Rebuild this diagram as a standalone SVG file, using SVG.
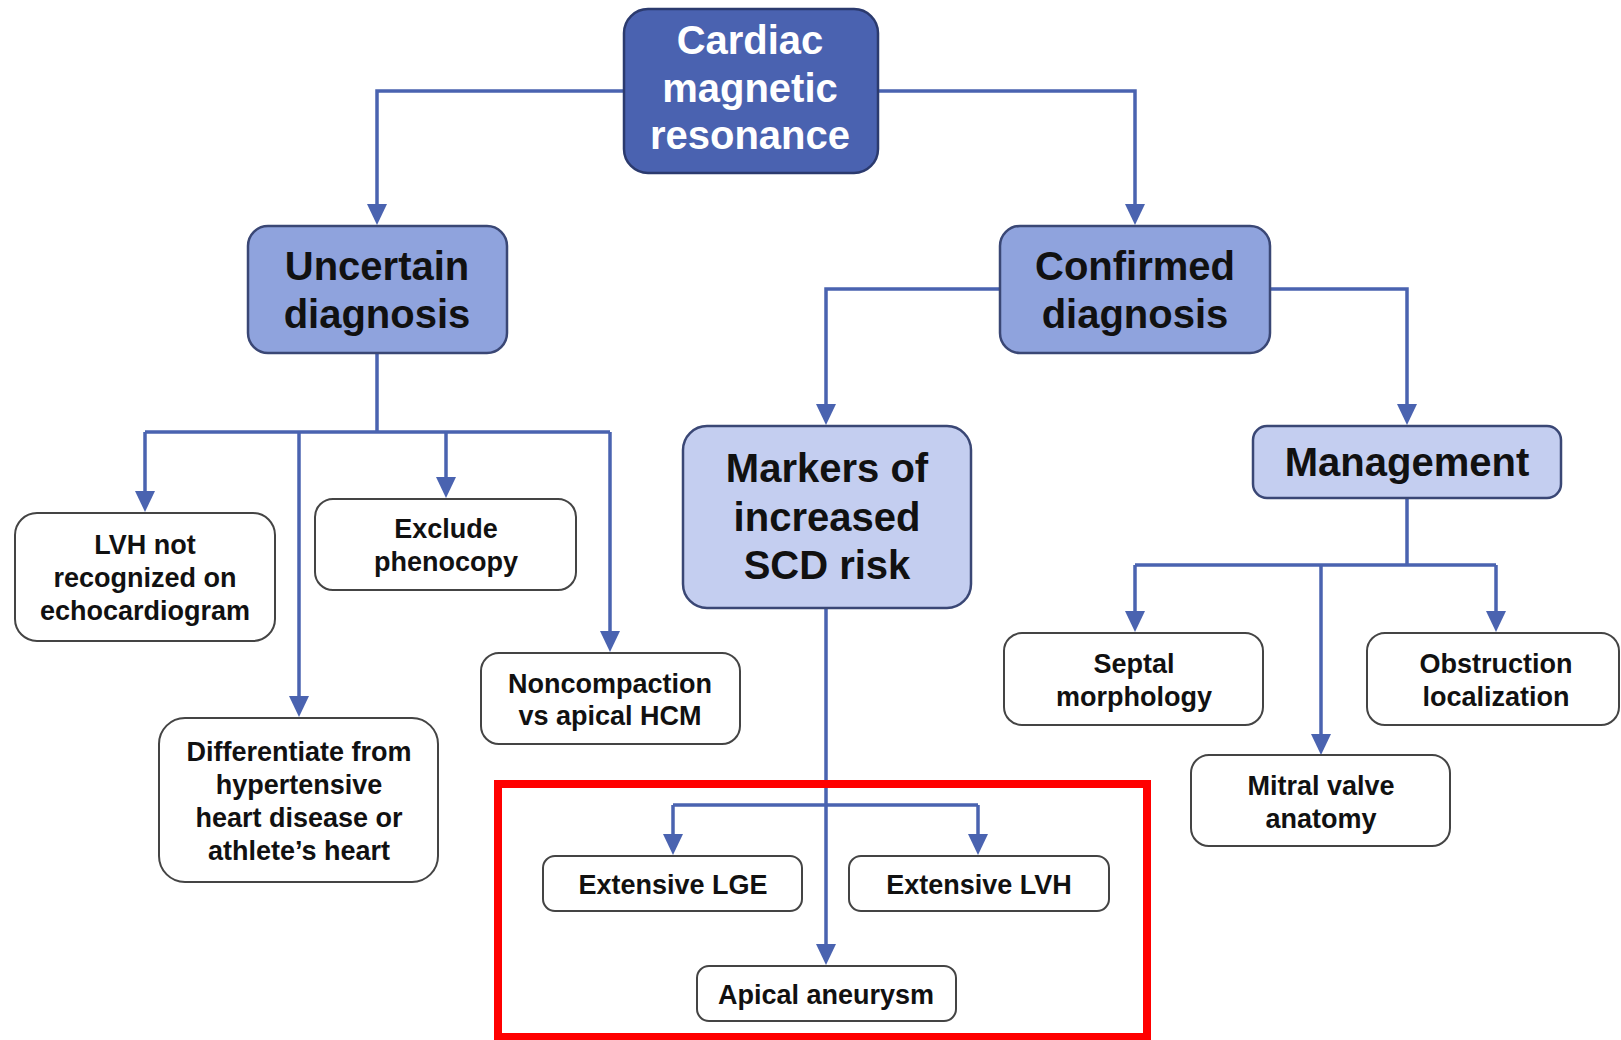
<svg xmlns="http://www.w3.org/2000/svg" width="1621" height="1040" viewBox="0 0 1621 1040">
<style>
text{font-family:"Liberation Sans",Arial,sans-serif;font-weight:bold;text-anchor:middle}
.big{font-size:40px;fill:#111}
.top{font-size:40px;fill:#fff}
.sm{font-size:27px;fill:#111}
.dark{fill:#4a62b0;stroke:#2b3a6e;stroke-width:2.5}
.mid{fill:#8fa3dd;stroke:#3a4775;stroke-width:2.5}
.light{fill:#c4cef0;stroke:#3a4775;stroke-width:2.5}
.box{fill:#fff;stroke:#444;stroke-width:2}
.c{fill:none;stroke:#4a63b0;stroke-width:3.5}
.ah{fill:#4a63b0}
</style>
<rect width="1621" height="1040" fill="#fff"/>
<g id="connectors">
<path class="c" d="M624,91 H377 V206"/>
<path class="c" d="M877,91 H1135 V206"/>
<path class="c" d="M377,354 V432 M145,432 H610"/>
<path class="c" d="M1000,289 H826 V406"/>
<path class="c" d="M1270,289 H1407 V406"/>
<path class="c" d="M1407,498 V565 M1135,565 H1496"/>
<path class="c" d="M826,608 V946 M673,805 H978"/>
<path class="c" d="M145,432 V493"/>
<path class="c" d="M299,432 V698"/>
<path class="c" d="M446,432 V479"/>
<path class="c" d="M610,432 V633"/>
<path class="c" d="M1135,565 V613"/>
<path class="c" d="M1496,565 V613"/>
<path class="c" d="M1321,565 V737"/>
<path class="c" d="M673,805 V838"/>
<path class="c" d="M978,805 V838"/>
<path class="ah" d="M367,204 L387,204 L377,225 Z"/>
<path class="ah" d="M1125,204 L1145,204 L1135,225 Z"/>
<path class="ah" d="M816,404 L836,404 L826,425 Z"/>
<path class="ah" d="M1397,404 L1417,404 L1407,425 Z"/>
<path class="ah" d="M135,491 L155,491 L145,512 Z"/>
<path class="ah" d="M289,696 L309,696 L299,717 Z"/>
<path class="ah" d="M436,477 L456,477 L446,498 Z"/>
<path class="ah" d="M600,631 L620,631 L610,652 Z"/>
<path class="ah" d="M1125,611 L1145,611 L1135,632 Z"/>
<path class="ah" d="M1486,611 L1506,611 L1496,632 Z"/>
<path class="ah" d="M1311,734 L1331,734 L1321,755 Z"/>
<path class="ah" d="M663,834 L683,834 L673,855 Z"/>
<path class="ah" d="M968,834 L988,834 L978,855 Z"/>
<path class="ah" d="M816,944 L836,944 L826,965 Z"/>
</g>
<g id="cmr"><rect class="dark" x="624" y="9" width="254" height="164" rx="24"/>
<text class="top" x="750" y="54">Cardiac</text><text class="top" x="750" y="102">magnetic</text><text class="top" x="750" y="149">resonance</text></g>
<g id="uncertain"><rect class="mid" x="248" y="226" width="259" height="127" rx="20"/>
<text class="big" x="377" y="280">Uncertain</text><text class="big" x="377" y="328">diagnosis</text></g>
<g id="confirmed"><rect class="mid" x="1000" y="226" width="270" height="127" rx="20"/>
<text class="big" x="1135" y="280">Confirmed</text><text class="big" x="1135" y="328">diagnosis</text></g>
<g id="markers"><rect class="light" x="683" y="426" width="288" height="182" rx="24"/>
<text class="big" x="827" y="482">Markers of</text><text class="big" x="827" y="531">increased</text><text class="big" x="827" y="579">SCD risk</text></g>
<g id="management"><rect class="light" x="1253" y="426" width="308" height="72" rx="14"/>
<text class="big" x="1407" y="476">Management</text></g>
<g id="lvh"><rect class="box" x="15" y="513" width="260" height="128" rx="22"/>
<text class="sm" x="145" y="554">LVH not</text><text class="sm" x="145" y="587">recognized on</text><text class="sm" x="145" y="620">echocardiogram</text></g>
<g id="exclude"><rect class="box" x="315" y="499" width="261" height="91" rx="18"/>
<text class="sm" x="446" y="538">Exclude</text><text class="sm" x="446" y="571">phenocopy</text></g>
<g id="differentiate"><rect class="box" x="159" y="718" width="279" height="164" rx="26"/>
<text class="sm" x="299" y="761">Differentiate from</text><text class="sm" x="299" y="794">hypertensive</text><text class="sm" x="299" y="827">heart disease or</text><text class="sm" x="299" y="860">athlete’s heart</text></g>
<g id="noncompaction"><rect class="box" x="481" y="653" width="259" height="91" rx="18"/>
<text class="sm" x="610" y="693">Noncompaction</text><text class="sm" x="610" y="725">vs apical HCM</text></g>
<g id="septal"><rect class="box" x="1004" y="633" width="259" height="92" rx="18"/>
<text class="sm" x="1134" y="673">Septal</text><text class="sm" x="1134" y="706">morphology</text></g>
<g id="obstruction"><rect class="box" x="1367" y="633" width="252" height="92" rx="18"/>
<text class="sm" x="1496" y="673">Obstruction</text><text class="sm" x="1496" y="706">localization</text></g>
<g id="mitral"><rect class="box" x="1191" y="755" width="259" height="91" rx="18"/>
<text class="sm" x="1321" y="795">Mitral valve</text><text class="sm" x="1321" y="828">anatomy</text></g>
<g id="lge"><rect class="box" x="543" y="856" width="259" height="55" rx="12"/>
<text class="sm" x="673" y="894">Extensive LGE</text></g>
<g id="elvh"><rect class="box" x="849" y="856" width="260" height="55" rx="12"/>
<text class="sm" x="979" y="894">Extensive LVH</text></g>
<g id="apical"><rect class="box" x="697" y="966" width="259" height="55" rx="12"/>
<text class="sm" x="826" y="1004">Apical aneurysm</text></g>
<rect id="highlight" x="498" y="784" width="649" height="253" fill="none" stroke="#ff0000" stroke-width="8"/>
</svg>
